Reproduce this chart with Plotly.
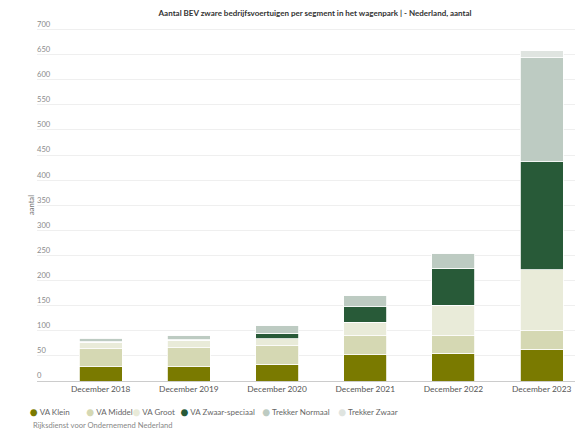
import plotly.graph_objects as go

categories = ["December 2018", "December 2019", "December 2020",
              "December 2021", "December 2022", "December 2023"]

series_names = ["VA Klein", "VA Middel", "VA Groot", "VA Zwaar-speciaal",
                "Trekker Normaal", "Trekker Zwaar"]

va_klein = [28, 28, 33, 52, 55, 63]
va_middel = [36, 38, 37, 38, 35, 37]
va_groot = [13, 15, 14, 27, 61, 122]
va_zwaar_speciaal = [1, 1, 11, 31, 74, 215]
trekker_normaal = [6, 9, 15, 22, 29, 207]
trekker_zwaar = [2, 1, 1, 1, 1, 14]

series_values = [va_klein, va_middel, va_groot, va_zwaar_speciaal,
                 trekker_normaal, trekker_zwaar]

colors = ["#7a7a00", "#d5d8b3", "#e9ebd9", "#285a38", "#bdcbc2", "#dfe4e0"]
legend_widths = [11.5, 1.2, 3, 36.7, 31, 75]

FONT = "Lato"

fig = go.Figure()
for name, vals, col in zip(series_names, series_values, colors):
    fig.add_trace(go.Bar(
        x=categories, y=vals, name=name, legendgroup=name, showlegend=False,
        marker=dict(color=col, line=dict(color="#ffffff", width=0.8)),
    ))
# legend entries: round colour dot + label
for name, col, lw in zip(series_names, colors, legend_widths):
    fig.add_trace(go.Scatter(
        x=[None], y=[None], mode="markers",
        name=(f"<span style='font-size:14px;baseline-shift:-1.5px;color:{col}'>●</span>"
              f" {name}"),
        legendgroup=name,
        marker=dict(color="rgba(0,0,0,0)", size=1), legendwidth=lw,
    ))

fig.update_layout(
    width=575, height=431,
    barmode="stack", bargap=0.5125,
    paper_bgcolor="#ffffff", plot_bgcolor="#ffffff",
    margin=dict(l=37, r=0, t=16.8, b=50, autoexpand=False),
    font=dict(family=FONT, size=8, color="#666666"),
    title=dict(
        text="Aantal BEV zware bedrijfsvoertuigen per segment in het wagenpark | - Nederland, aantal",
        x=0.548, xanchor="center", y=1 - 13 / 431, yanchor="middle",
        font=dict(family=FONT, size=8, color="#333333", weight="bold"),
    ),
    xaxis=dict(
        type="category", range=[-0.722, 5.378],
        showline=True, linecolor="#cccccc", linewidth=1,
        showgrid=False, ticks="", zeroline=False,
        tickfont=dict(family=FONT, size=8.4, color="#555555"),
        fixedrange=True,
    ),
    yaxis=dict(
        range=[0, 725], dtick=50, tick0=0,
        showgrid=True, gridcolor="#efefef", gridwidth=1,
        zeroline=False, showline=False, ticks="",
        ticklabelposition="inside top", ticklabelstandoff=-3,
        tickfont=dict(family=FONT, size=7.6, color="#8a8a8a"),
        fixedrange=True,
    ),
    legend=dict(
        orientation="h", xref="paper", yref="paper",
        x=(-10.5 - 37) / 538, xanchor="left",
        y=(381 - 411.7) / 364.2, yanchor="middle",
        font=dict(family=FONT, size=8, color="#666666"),
        bgcolor="rgba(0,0,0,0)", itemclick=False, itemdoubleclick=False,
    ),
    annotations=[
        dict(text="aantal", xref="paper", yref="paper",
             x=(31 - 37) / 538, y=(381 - 205) / 364.2, xanchor="center", yanchor="middle",
             textangle=-90, showarrow=False,
             font=dict(family=FONT, size=7.6, color="#777777")),
        dict(text="Rijksdienst voor Ondernemend Nederland", xref="paper", yref="paper",
             x=(31 - 37) / 538, y=(381 - 425.5) / 364.2, xanchor="left", yanchor="middle",
             showarrow=False,
             font=dict(family=FONT, size=7.6, color="#888888")),
    ],
)

fig.write_html(
    "out.html",
    config={"displayModeBar": False},
    post_script="document.body.style.margin='0px';document.body.style.overflow='hidden';",
)
